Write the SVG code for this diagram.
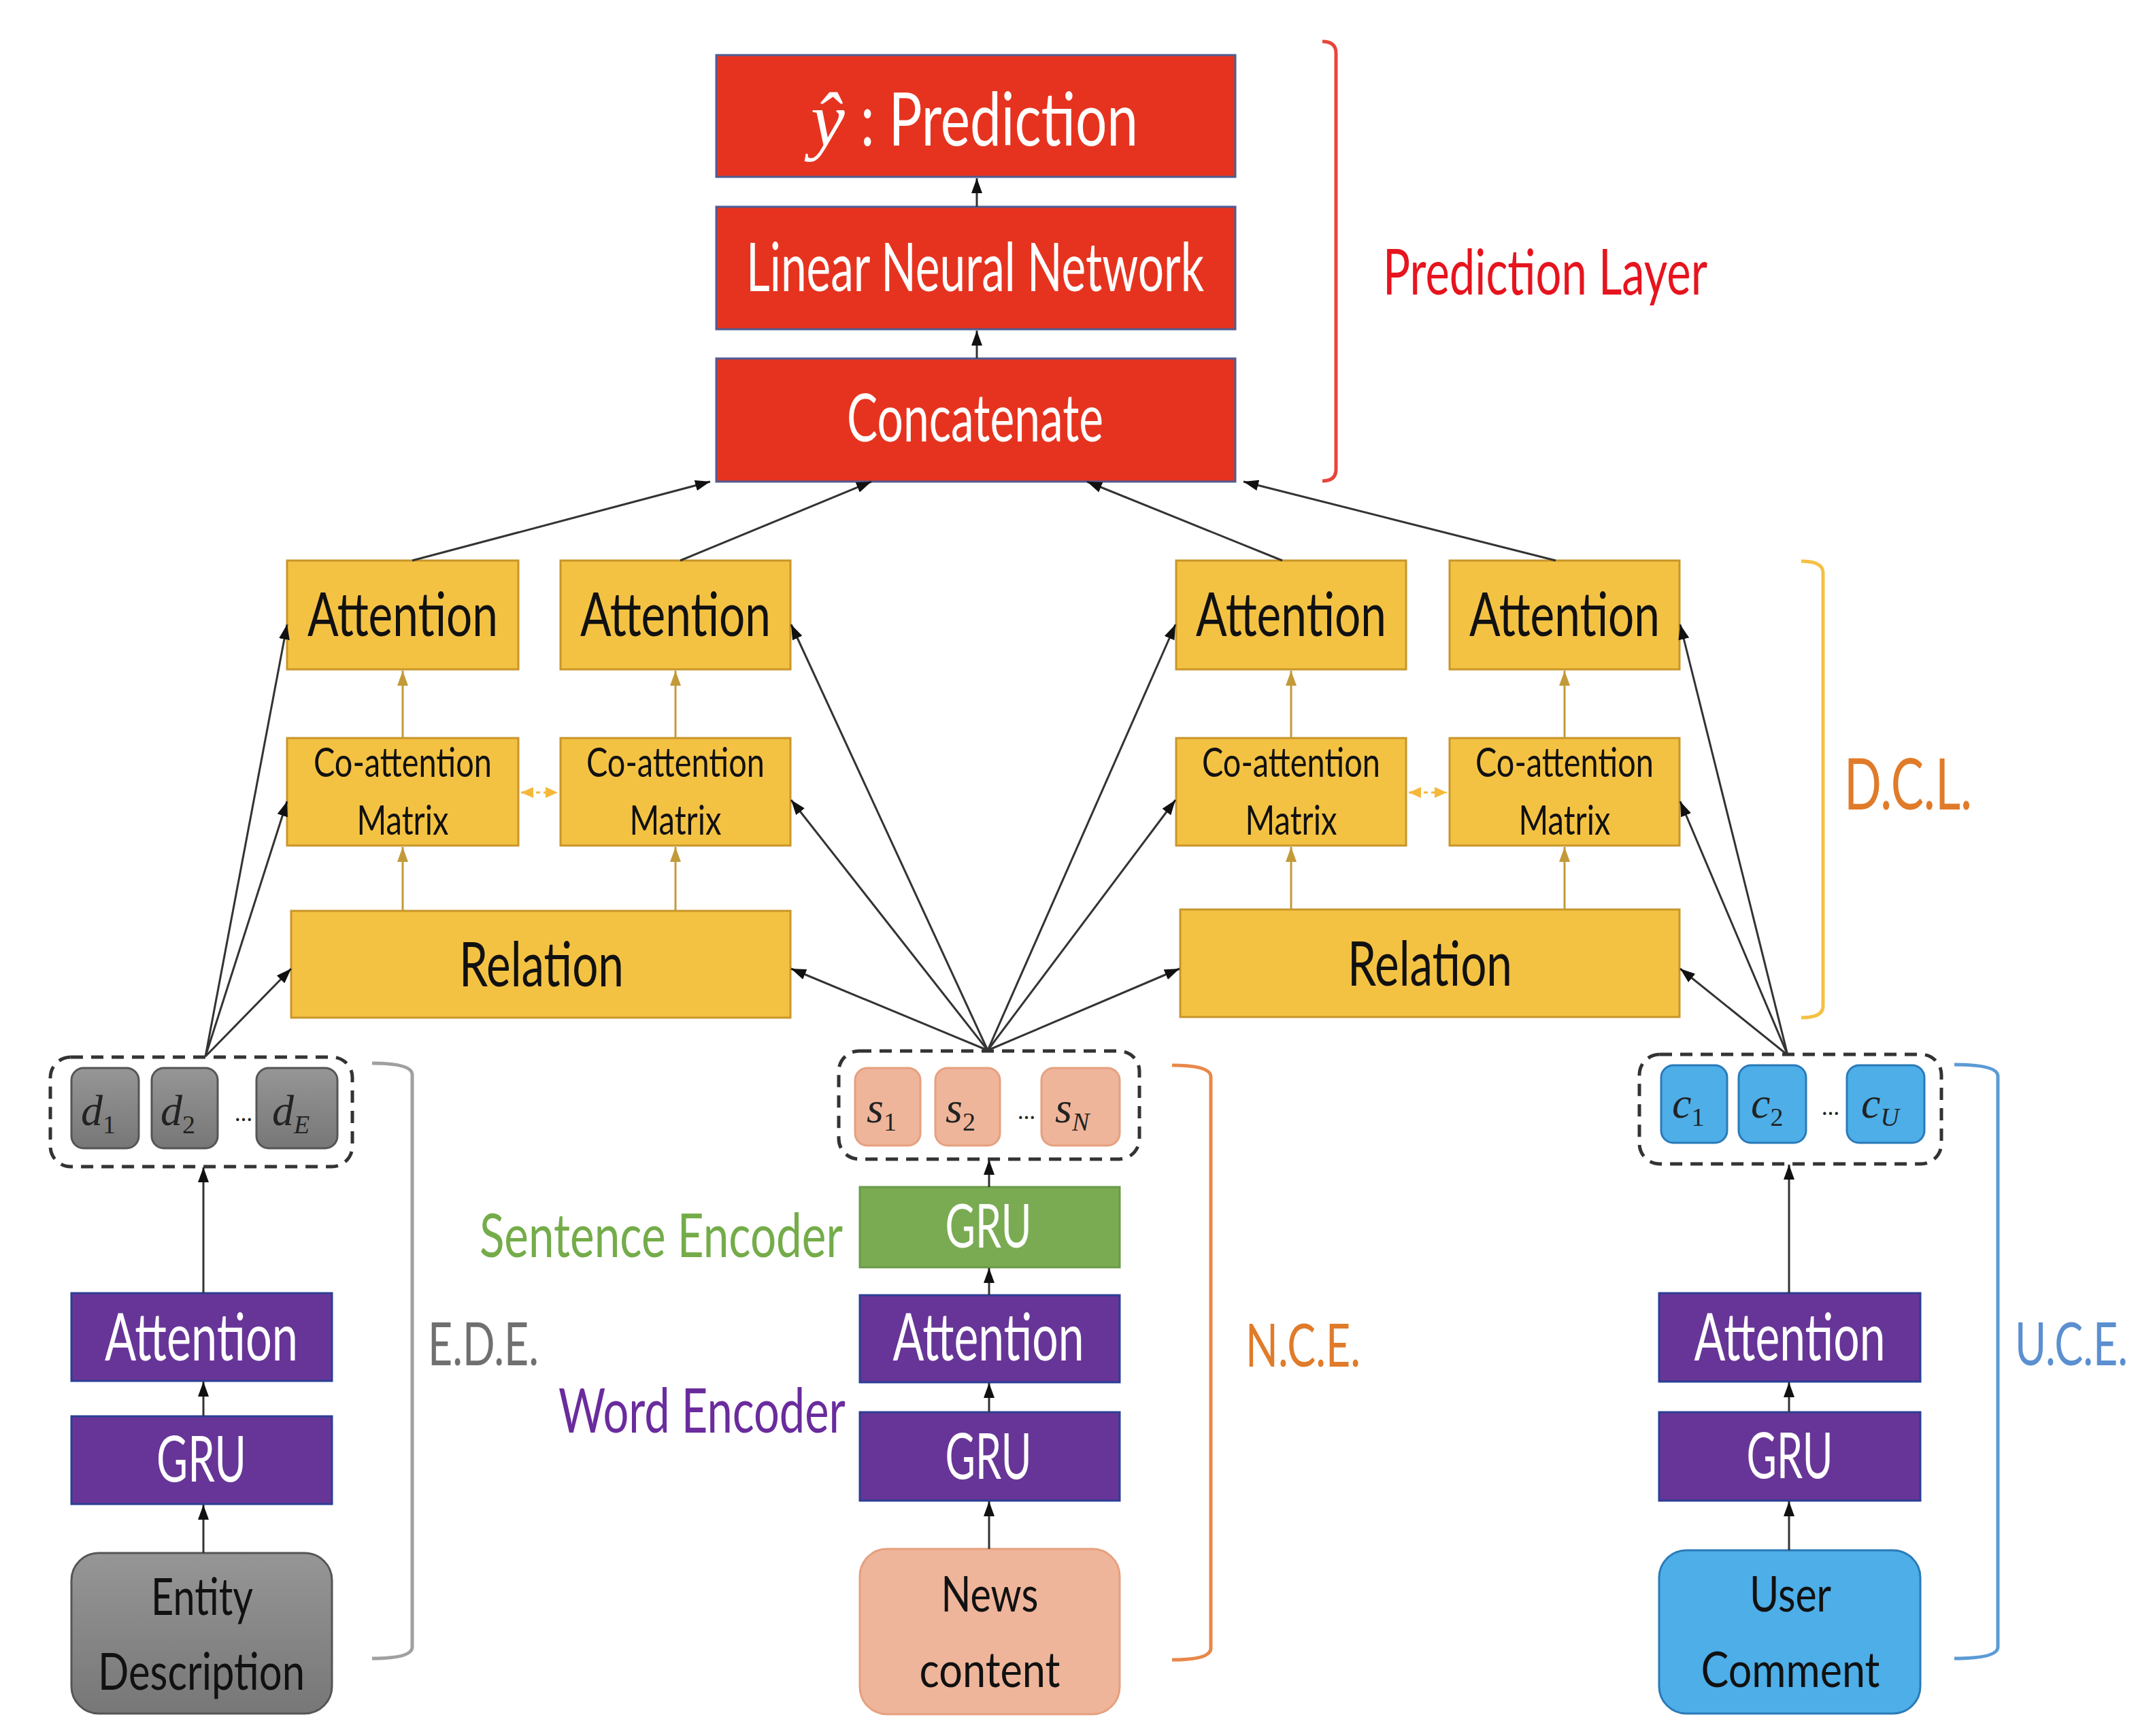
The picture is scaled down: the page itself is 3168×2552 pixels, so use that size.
<svg xmlns="http://www.w3.org/2000/svg" width="3168" height="2552" viewBox="0 0 3168 2552">
<style>
.t{font-family:Lato,"Liberation Sans",sans-serif;}
.w{fill:#ffffff;}
.k{fill:#111111;}
.red{fill:#e6331f;stroke:#4f5b93;stroke-width:3;}
.yel{fill:#f4c243;stroke:#c8962a;stroke-width:3;}
.pur{fill:#673597;stroke:#2b3f95;stroke-width:3;}
.grn{fill:#7aab53;stroke:#6a9a48;stroke-width:3;}
.sal{fill:#eeb59b;stroke:#e6a07e;stroke-width:3;}
.blu{fill:#4daee8;stroke:#2a7ab8;stroke-width:3;}
.gry{fill:url(#gg);stroke:#555555;stroke-width:3;}
.dash{fill:none;stroke:#333333;stroke-width:5;stroke-dasharray:18 12;}
.m{font-family:"Liberation Serif",serif;font-style:italic;fill:#222222;font-size:64px;}
.sub{font-size:38px;}
.c{fill:none;stroke:#333333;stroke-width:3;marker-end:url(#ah);}
.cy{fill:none;stroke:#c39a3a;stroke-width:3;marker-end:url(#ahy);}
.br{fill:none;stroke-width:5;}
</style>
<defs>
<linearGradient id="gg" x1="0" y1="0" x2="0" y2="1">
<stop offset="0" stop-color="#969696"/>
<stop offset="1" stop-color="#777777"/>
</linearGradient>
<marker id="ah" markerUnits="userSpaceOnUse" markerWidth="22" markerHeight="16" refX="22" refY="8" orient="auto">
<path d="M0,0 L22,8 L0,16 z" fill="#111111"/>
</marker>
<marker id="ahy" markerUnits="userSpaceOnUse" markerWidth="22" markerHeight="16" refX="22" refY="8" orient="auto">
<path d="M0,0 L22,8 L0,16 z" fill="#c39a3a"/>
</marker>
<marker id="ahl" markerUnits="userSpaceOnUse" markerWidth="18" markerHeight="16" refX="18" refY="8" orient="auto-start-reverse">
<path d="M0,0 L18,8 L0,16 z" fill="#f5b83a"/>
</marker>
</defs>
<rect width="3168" height="2552" fill="#ffffff"/>

<!-- Prediction layer -->
<g id="prediction">
<rect class="red" x="1053" y="81" width="763" height="179"/>
<text class="m" x="1192" y="214" style="font-size:112px;fill:#ffffff">ŷ</text>
<text class="t w" x="1265" y="214" font-size="109" textLength="408" lengthAdjust="spacingAndGlyphs">: Prediction</text>
</g>
<g id="linear">
<rect class="red" x="1053" y="304" width="763" height="180"/>
<text class="t w" x="1097" y="428" font-size="99" textLength="673" lengthAdjust="spacingAndGlyphs">Linear Neural Network</text>
</g>
<g id="concatenate">
<rect class="red" x="1053" y="527" width="763" height="181"/>
<text class="t w" x="1245" y="649" font-size="96" textLength="377" lengthAdjust="spacingAndGlyphs">Concatenate</text>
</g>
<g id="prediction-layer-label">
<path class="br" stroke="#e8453a" d="M1944,61 Q1964,61 1964,78 V690 Q1964,707 1944,707"/>
<text class="t" x="2033" y="433" font-size="94" fill="#e6141e" textLength="477" lengthAdjust="spacingAndGlyphs">Prediction Layer</text>
</g>

<!-- D.C.L. -->
<g id="att1">
<rect class="yel" x="422" y="824" width="340" height="160"/>
<text class="t k" x="592" y="935" font-size="89" text-anchor="middle" textLength="280" lengthAdjust="spacingAndGlyphs">Attention</text>
</g>
<g id="att2">
<rect class="yel" x="824" y="824" width="338" height="160"/>
<text class="t k" x="993" y="935" font-size="89" text-anchor="middle" textLength="280" lengthAdjust="spacingAndGlyphs">Attention</text>
</g>
<g id="att3">
<rect class="yel" x="1729" y="824" width="338" height="160"/>
<text class="t k" x="1898" y="935" font-size="89" text-anchor="middle" textLength="280" lengthAdjust="spacingAndGlyphs">Attention</text>
</g>
<g id="att4">
<rect class="yel" x="2131" y="824" width="338" height="160"/>
<text class="t k" x="2300" y="935" font-size="89" text-anchor="middle" textLength="280" lengthAdjust="spacingAndGlyphs">Attention</text>
</g>
<g id="coatt1">
<rect class="yel" x="422" y="1085" width="340" height="158"/>
<text class="t k" x="592" y="1142" font-size="60" text-anchor="middle" textLength="262" lengthAdjust="spacingAndGlyphs">Co-attention</text>
<text class="t k" x="592" y="1227" font-size="60" text-anchor="middle" textLength="135" lengthAdjust="spacingAndGlyphs">Matrix</text>
</g>
<g id="coatt2">
<rect class="yel" x="824" y="1085" width="338" height="158"/>
<text class="t k" x="993" y="1142" font-size="60" text-anchor="middle" textLength="262" lengthAdjust="spacingAndGlyphs">Co-attention</text>
<text class="t k" x="993" y="1227" font-size="60" text-anchor="middle" textLength="135" lengthAdjust="spacingAndGlyphs">Matrix</text>
</g>
<g id="coatt3">
<rect class="yel" x="1729" y="1085" width="338" height="158"/>
<text class="t k" x="1898" y="1142" font-size="60" text-anchor="middle" textLength="262" lengthAdjust="spacingAndGlyphs">Co-attention</text>
<text class="t k" x="1898" y="1227" font-size="60" text-anchor="middle" textLength="135" lengthAdjust="spacingAndGlyphs">Matrix</text>
</g>
<g id="coatt4">
<rect class="yel" x="2131" y="1085" width="338" height="158"/>
<text class="t k" x="2300" y="1142" font-size="60" text-anchor="middle" textLength="262" lengthAdjust="spacingAndGlyphs">Co-attention</text>
<text class="t k" x="2300" y="1227" font-size="60" text-anchor="middle" textLength="135" lengthAdjust="spacingAndGlyphs">Matrix</text>
</g>
<g id="relation1">
<rect class="yel" x="428" y="1339" width="734" height="157"/>
<text class="t k" x="796" y="1450" font-size="91" text-anchor="middle" textLength="242" lengthAdjust="spacingAndGlyphs">Relation</text>
</g>
<g id="relation2">
<rect class="yel" x="1735" y="1337" width="734" height="158"/>
<text class="t k" x="2102" y="1449" font-size="91" text-anchor="middle" textLength="242" lengthAdjust="spacingAndGlyphs">Relation</text>
</g>
<g id="dcl-label">
<path class="br" stroke="#f5c043" d="M2648,825 Q2680,825 2680,842 V1479 Q2680,1496 2648,1496"/>
<text class="t" x="2711" y="1190" font-size="104" fill="#e07b2a" textLength="188" lengthAdjust="spacingAndGlyphs">D.C.L.</text>
</g>

<!-- E.D.E. -->
<g id="entity-seq">
<rect class="dash" x="74" y="1554" width="444" height="161" rx="30"/>
<rect class="gry" x="105" y="1570" width="99" height="118" rx="18"/>
<rect class="gry" x="223" y="1570" width="97" height="118" rx="18"/>
<rect class="gry" x="377" y="1570" width="119" height="118" rx="18"/>
<text class="m" x="119" y="1654">d<tspan class="sub" dy="12" font-style="normal">1</tspan></text>
<text class="m" x="236" y="1654">d<tspan class="sub" dy="12" font-style="normal">2</tspan></text>
<text class="t" x="358" y="1648" font-size="34" fill="#222" text-anchor="middle">…</text>
<text class="m" x="400" y="1654">d<tspan class="sub" dy="12">E</tspan></text>
</g>
<g id="entity-att">
<rect class="pur" x="105" y="1901" width="383" height="129"/>
<text class="t w" x="296" y="2000" font-size="96" text-anchor="middle" textLength="284" lengthAdjust="spacingAndGlyphs">Attention</text>
</g>
<g id="entity-gru">
<rect class="pur" x="105" y="2082" width="383" height="129"/>
<text class="t w" x="296" y="2178" font-size="93" text-anchor="middle" textLength="132" lengthAdjust="spacingAndGlyphs">GRU</text>
</g>
<g id="entity-desc">
<rect class="gry" x="105" y="2283" width="383" height="236" rx="40"/>
<text class="t k" x="297" y="2374" font-size="76" text-anchor="middle" textLength="150" lengthAdjust="spacingAndGlyphs">Entity</text>
<text class="t k" x="296" y="2484" font-size="76" text-anchor="middle" textLength="304" lengthAdjust="spacingAndGlyphs">Description</text>
</g>
<g id="ede-label">
<path class="br" stroke="#a0a0a0" d="M547,1563 Q606,1563 606,1580 V2421 Q606,2438 547,2438"/>
<text class="t" x="629" y="2007" font-size="88" fill="#707070" textLength="163" lengthAdjust="spacingAndGlyphs">E.D.E.</text>
</g>

<!-- N.C.E. -->
<g id="news-seq">
<rect class="dash" x="1233" y="1545" width="442" height="159" rx="30"/>
<rect class="sal" x="1257" y="1570" width="96" height="114" rx="18"/>
<rect class="sal" x="1375" y="1570" width="95" height="114" rx="18"/>
<rect class="sal" x="1531" y="1570" width="115" height="114" rx="18"/>
<text class="m" x="1274" y="1650">s<tspan class="sub" dy="12" font-style="normal">1</tspan></text>
<text class="m" x="1390" y="1650">s<tspan class="sub" dy="12" font-style="normal">2</tspan></text>
<text class="t" x="1509" y="1645" font-size="34" fill="#222" text-anchor="middle">…</text>
<text class="m" x="1551" y="1650">s<tspan class="sub" dy="12">N</tspan></text>
</g>
<g id="sent-gru">
<rect class="grn" x="1264" y="1745" width="382" height="118"/>
<text class="t w" x="1453" y="1834" font-size="90" text-anchor="middle" textLength="127" lengthAdjust="spacingAndGlyphs">GRU</text>
</g>
<g id="word-att">
<rect class="pur" x="1264" y="1904" width="382" height="128"/>
<text class="t w" x="1453" y="2000" font-size="96" text-anchor="middle" textLength="281" lengthAdjust="spacingAndGlyphs">Attention</text>
</g>
<g id="word-gru">
<rect class="pur" x="1264" y="2076" width="382" height="130"/>
<text class="t w" x="1453" y="2174" font-size="93" text-anchor="middle" textLength="127" lengthAdjust="spacingAndGlyphs">GRU</text>
</g>
<g id="news-content">
<rect class="sal" x="1264" y="2277" width="382" height="243" rx="40"/>
<text class="t k" x="1455" y="2369" font-size="72" text-anchor="middle" textLength="143" lengthAdjust="spacingAndGlyphs">News</text>
<text class="t k" x="1455" y="2480" font-size="72" text-anchor="middle" textLength="207" lengthAdjust="spacingAndGlyphs">content</text>
</g>
<g id="encoder-labels">
<text class="t" transform="translate(705,1848) scale(0.6,1)" x="0" y="0" font-size="90" fill="#74ac4a" textLength="890" lengthAdjust="spacingAndGlyphs">Sentence Encoder</text>
<text class="t" transform="translate(821,2106) scale(0.6,1)" x="0" y="0" font-size="92" fill="#6a2c9c" textLength="703" lengthAdjust="spacingAndGlyphs">Word Encoder</text>
</g>
<g id="nce-label">
<path class="br" stroke="#e8884a" d="M1723,1566 Q1780,1566 1780,1583 V2423 Q1780,2440 1723,2440"/>
<text class="t" x="1831" y="2009" font-size="88" fill="#e07b2a" textLength="169" lengthAdjust="spacingAndGlyphs">N.C.E.</text>
</g>

<!-- U.C.E. -->
<g id="comment-seq">
<rect class="dash" x="2410" y="1550" width="444" height="161" rx="30"/>
<rect class="blu" x="2442" y="1566" width="97" height="114" rx="18"/>
<rect class="blu" x="2556" y="1566" width="99" height="114" rx="18"/>
<rect class="blu" x="2715" y="1566" width="114" height="114" rx="18"/>
<text class="m" x="2458" y="1643">c<tspan class="sub" dy="12" font-style="normal">1</tspan></text>
<text class="m" x="2574" y="1643">c<tspan class="sub" dy="12" font-style="normal">2</tspan></text>
<text class="t" x="2691" y="1639" font-size="34" fill="#222" text-anchor="middle">…</text>
<text class="m" x="2736" y="1643">c<tspan class="sub" dy="12">U</tspan></text>
</g>
<g id="comment-att">
<rect class="pur" x="2439" y="1901" width="384" height="130"/>
<text class="t w" x="2631" y="2000" font-size="96" text-anchor="middle" textLength="281" lengthAdjust="spacingAndGlyphs">Attention</text>
</g>
<g id="comment-gru">
<rect class="pur" x="2439" y="2076" width="384" height="130"/>
<text class="t w" x="2631" y="2173" font-size="93" text-anchor="middle" textLength="127" lengthAdjust="spacingAndGlyphs">GRU</text>
</g>
<g id="user-comment">
<rect class="blu" x="2439" y="2279" width="384" height="240" rx="40"/>
<text class="t k" x="2632" y="2369" font-size="72" text-anchor="middle" textLength="120" lengthAdjust="spacingAndGlyphs">User</text>
<text class="t k" x="2632" y="2480" font-size="72" text-anchor="middle" textLength="263" lengthAdjust="spacingAndGlyphs">Comment</text>
</g>
<g id="uce-label">
<path class="br" stroke="#5b9bd5" d="M2873,1565 Q2937,1565 2937,1582 V2421 Q2937,2438 2873,2438"/>
<text class="t" transform="translate(2962,2007) scale(0.6,1)" x="0" y="0" font-size="88" fill="#5b8fd0" textLength="277" lengthAdjust="spacingAndGlyphs">U.C.E.</text>
</g>

<!-- connectors -->
<g id="connectors">
<line class="c" x1="1436" y1="527" x2="1436" y2="486"/>
<line class="c" x1="1436" y1="304" x2="1436" y2="262"/>
<line class="c" x1="606" y1="824" x2="1044" y2="708"/>
<line class="c" x1="1000" y1="824" x2="1281" y2="708"/>
<line class="c" x1="1885" y1="824" x2="1598" y2="708"/>
<line class="c" x1="2287" y1="824" x2="1828" y2="708"/>

<line class="cy" x1="592" y1="1085" x2="592" y2="986"/>
<line class="cy" x1="993" y1="1085" x2="993" y2="986"/>
<line class="cy" x1="1898" y1="1085" x2="1898" y2="986"/>
<line class="cy" x1="2300" y1="1085" x2="2300" y2="986"/>
<line class="cy" x1="592" y1="1339" x2="592" y2="1245"/>
<line class="cy" x1="993" y1="1339" x2="993" y2="1245"/>
<line class="cy" x1="1898" y1="1337" x2="1898" y2="1245"/>
<line class="cy" x1="2300" y1="1337" x2="2300" y2="1245"/>
<line x1="766" y1="1165" x2="820" y2="1165" stroke="#f5b83a" stroke-width="3" stroke-dasharray="6 5" marker-start="url(#ahl)" marker-end="url(#ahl)"/>
<line x1="2071" y1="1165" x2="2127" y2="1165" stroke="#f5b83a" stroke-width="3" stroke-dasharray="6 5" marker-start="url(#ahl)" marker-end="url(#ahl)"/>

<line class="c" x1="302" y1="1553" x2="422" y2="918"/>
<line class="c" x1="302" y1="1553" x2="422" y2="1178"/>
<line class="c" x1="302" y1="1553" x2="428" y2="1424"/>

<line class="c" x1="1452" y1="1544" x2="1163" y2="918"/>
<line class="c" x1="1452" y1="1544" x2="1163" y2="1176"/>
<line class="c" x1="1452" y1="1544" x2="1163" y2="1424"/>
<line class="c" x1="1452" y1="1544" x2="1728" y2="918"/>
<line class="c" x1="1452" y1="1544" x2="1728" y2="1176"/>
<line class="c" x1="1452" y1="1544" x2="1734" y2="1424"/>

<line class="c" x1="2628" y1="1551" x2="2470" y2="918"/>
<line class="c" x1="2628" y1="1551" x2="2470" y2="1178"/>
<line class="c" x1="2628" y1="1551" x2="2470" y2="1424"/>

<line class="c" x1="299" y1="1901" x2="299" y2="1716"/>
<line class="c" x1="299" y1="2082" x2="299" y2="2031"/>
<line class="c" x1="299" y1="2283" x2="299" y2="2212"/>

<line class="c" x1="1454" y1="1745" x2="1454" y2="1705"/>
<line class="c" x1="1454" y1="1904" x2="1454" y2="1864"/>
<line class="c" x1="1454" y1="2076" x2="1454" y2="2033"/>
<line class="c" x1="1454" y1="2277" x2="1454" y2="2207"/>

<line class="c" x1="2630" y1="1901" x2="2630" y2="1712"/>
<line class="c" x1="2630" y1="2076" x2="2630" y2="2032"/>
<line class="c" x1="2630" y1="2279" x2="2630" y2="2207"/>
</g>
</svg>
